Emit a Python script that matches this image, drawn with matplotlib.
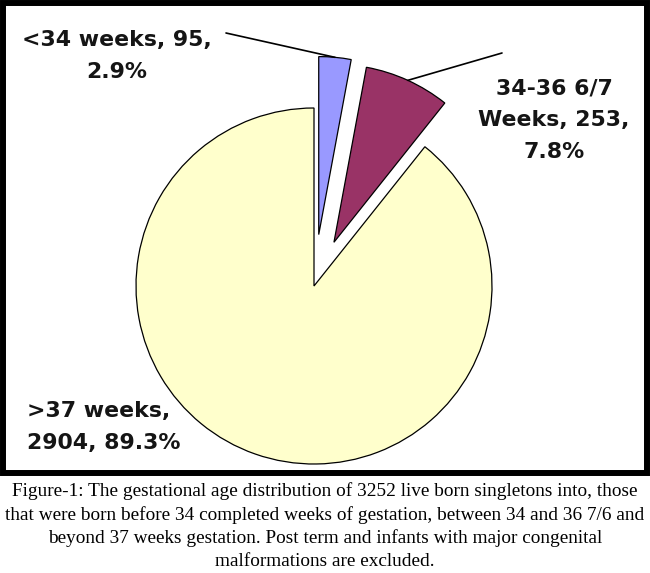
import matplotlib
matplotlib.use("Agg")
import matplotlib.pyplot as plt
from matplotlib.patches import Rectangle
import numpy as np

# ---- data ----
categories = ["<34 weeks", "34-36 6/7 Weeks", ">37 weeks"]
counts = [95, 253, 2904]
percents = [2.9, 7.8, 89.3]
labels = ["<34 weeks, 95,\n2.9%", "34-36 6/7\nWeeks, 253,\n7.8%", ">37 weeks,\n2904, 89.3%"]
colors = ["#9999FF", "#993366", "#FFFFCC"]
caption = ("Figure-1: The gestational age distribution of 3252 live born singletons into, those\n"
           "that were born before 34 completed weeks of gestation, between 34 and 36 7/6 and\n"
           "beyond 37 weeks gestation. Post term and infants with major congenital\n"
           "malformations are excluded.")

W, H = 650, 573
fig = plt.figure(figsize=(W / 100, H / 100), dpi=100)
fig.patch.set_facecolor("white")

# pie centre / radius in pixels
CX, CY, R = 314, 286, 178

def p2d(px, py):
    return ((px - CX) / R, (CY - py) / R)

ax = fig.add_axes([0, 0, 1, 1])
ax.axis("off")

wedges, _ = ax.pie(counts, colors=colors, startangle=90, counterclock=False,
                   explode=[0.29, 0.27, 0.0], radius=1.0,
                   wedgeprops=dict(edgecolor="black", linewidth=0.9))
ax.set_aspect("auto")
ax.set_xlim(-CX / R, (W - CX) / R)
ax.set_ylim((CY - H) / R, CY / R)

def arc_mid(w):
    t = np.deg2rad(0.5 * (w.theta1 + w.theta2))
    cx, cy = w.center
    return cx + w.r * np.cos(t), cy + w.r * np.sin(t)

lab_font = dict(family="DejaVu Sans", weight="bold", fontsize=15.8, color="#151515")

# leader lines
ax.annotate("", xy=arc_mid(wedges[0]), xytext=p2d(226, 33),
            arrowprops=dict(arrowstyle="-", lw=1.2, color="black", shrinkA=0, shrinkB=0))
ax.annotate("", xy=arc_mid(wedges[1]), xytext=p2d(502, 53),
            arrowprops=dict(arrowstyle="-", lw=1.2, color="black", shrinkA=0, shrinkB=0))

ax.text(*p2d(117, 56), labels[0], ha="center", va="center", multialignment="center",
        linespacing=1.75, **lab_font)
ax.text(*p2d(554, 120), labels[1], ha="center", va="center", multialignment="center",
        linespacing=1.75, **lab_font)
ax.text(*p2d(27, 427), labels[2], ha="left", va="center", multialignment="left",
        linespacing=1.75, **lab_font)

# frame around chart
fig.add_artist(Rectangle((3 / W, (H - 473) / H), 644 / W, 470 / H,
                         transform=fig.transFigure, fill=False,
                         edgecolor="black", linewidth=4.3))

fig.text(0.5, 1 - 526 / H, caption, ha="center", va="center", multialignment="center",
         family="Liberation Serif", fontsize=13.9, linespacing=1.42, color="black")

fig.savefig("out.png", dpi=100, facecolor="white")
